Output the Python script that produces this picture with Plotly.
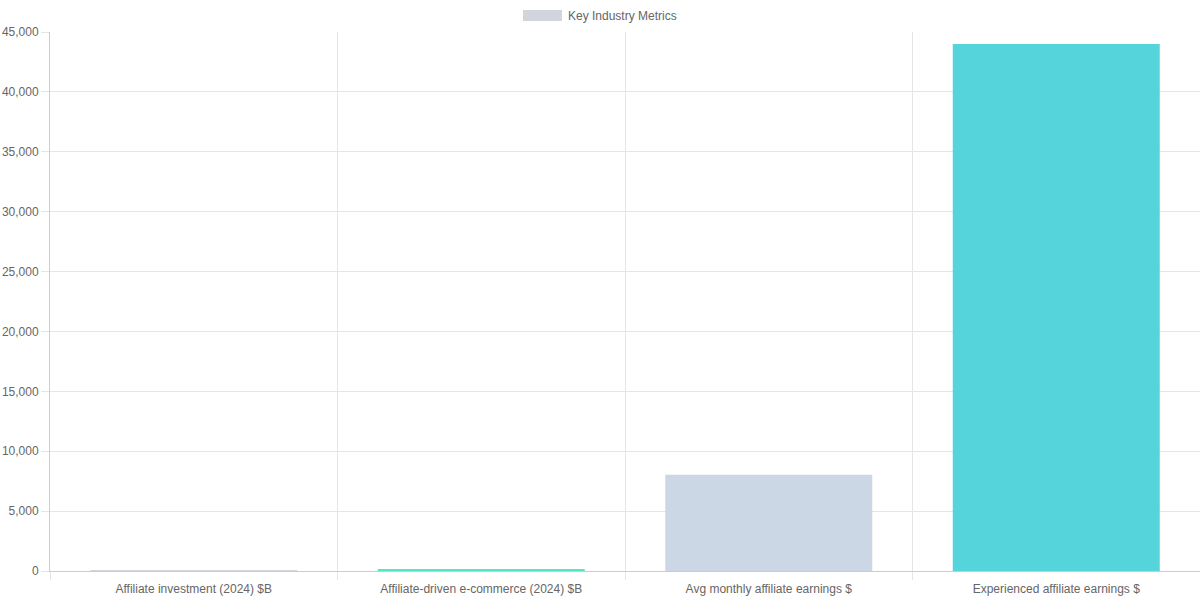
import plotly.graph_objects as go

categories = [
    "Affiliate investment (2024) $B",
    "Affiliate-driven e-commerce (2024) $B",
    "Avg monthly affiliate earnings $",
    "Experienced affiliate earnings $",
]
values = [15.7, 136, 8038, 44000]
bar_colors = ["#d1d6dc", "#4ee8c4", "#cbd7e4", "#55d4db"]
series_name = "Key Industry Metrics"

fig = go.Figure()
fig.add_trace(
    go.Bar(
        x=categories,
        y=values,
        name=series_name,
        marker=dict(color=bar_colors, line=dict(width=0)),
        showlegend=False,
        hovertemplate="%{x}: %{y:,}<extra></extra>",
    )
)

# legend drawn by hand so the swatch gets the wide Chart.js shape
fig.add_shape(
    type="rect", xref="paper", yref="paper",
    x0=(523 - 50) / 1150, x1=(562 - 50) / 1150,
    y0=(571 - 21) / 539, y1=(571 - 10) / 539,
    fillcolor=bar_colors[0], line=dict(width=0),
)
fig.add_annotation(
    text=series_name, xref="paper", yref="paper",
    x=(566 - 50) / 1150, y=(571 - 15.5) / 539,
    xanchor="left", yanchor="middle", showarrow=False,
    font=dict(size=12, color="#666666"),
)

fig.update_layout(
    width=1200,
    height=600,
    margin=dict(l=50, r=0, t=32, b=29),
    paper_bgcolor="white",
    plot_bgcolor="white",
    bargap=0.28,
    font=dict(family="Liberation Sans, Arial, sans-serif", size=12, color="#666666"),
    showlegend=False,
)
fig.update_xaxes(
    type="category",
    tickson="boundaries",
    showgrid=True,
    gridcolor="#e5e5e5",
    ticks="outside",
    ticklen=8,
    tickcolor="#e5e5e5",
    ticklabelstandoff=7,
    showline=True,
    linecolor="#cccccc",
    tickfont=dict(size=12, color="#666666"),
)
fig.update_yaxes(
    range=[0, 45000],
    dtick=5000,
    tickformat=",",
    showgrid=True,
    gridcolor="#e5e5e5",
    ticks="outside",
    ticklen=8,
    tickcolor="#e5e5e5",
    showline=True,
    linecolor="#cccccc",
    zeroline=False,
    tickfont=dict(size=12, color="#666666"),
)

# drop the default page margin so the figure sits flush in the window
fig.write_html(
    "out.html",
    config={"displayModeBar": False},
    post_script="document.body.style.margin='0';",
)
